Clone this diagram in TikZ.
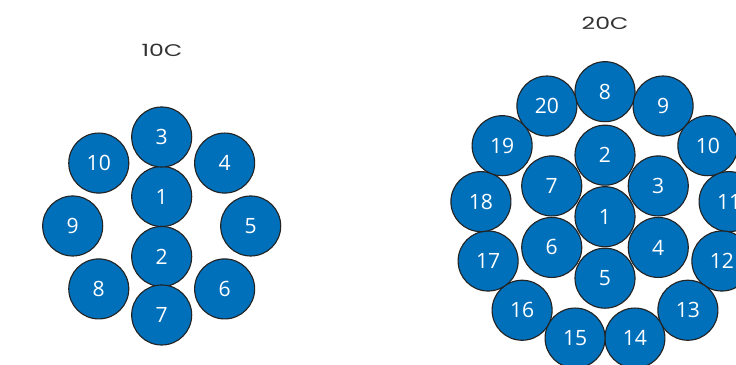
\documentclass[tikz,border=0pt]{standalone}
\usepackage{fontspec}
\setmainfont{Open Sans}
\newfontfamily\titlefont[FakeStretch=1.4]{Poppins}
\usetikzlibrary{positioning,calc}
\definecolor{cableblue}{RGB}{0,112,186}
\definecolor{rimgray}{RGB}{35,35,35}
\definecolor{titlegray}{RGB}{50,50,50}

\tikzset{
  core/.style={circle,fill=cableblue,draw=rimgray,line width=0.8pt,
    minimum size=1.5cm,inner sep=0pt,text=white,
    font=\fontsize{15}{16}\selectfont},
  cabletitle/.style={text=titlegray,font=\titlefont\fontsize{12}{14}\selectfont}
}

\begin{document}
\begin{tikzpicture}[x=0.025cm,y=0.025cm]
    \useasboundingbox (0,0) rectangle (736,365);
    \clip (0,0) rectangle (736,365);
    % 10C
    \coordinate (c10) at (161.7,139);
    \node[cabletitle] (t10) at (162,315) {10C};
    \node[core] (a1) at (161.7,168.5) {1};
    \node[core] (a2) at (161.7,108.5) {2};
    \foreach \n in {3,...,10}
      \node[core] (a\n) at ($(c10)+({90-(\n-3)*45}:89)$) {\n};
    % 20C
    \coordinate (c20) at (605,148.3);
    \node[cabletitle] (t20) at (605,341.7) {20C};
    \node[core] (b1) at (c20) {1};
    \foreach \n in {2,...,7}
      \node[core] (b\n) at ($(c20)+({90-(\n-2)*60}:61.5)$) {\n};
    \foreach \n in {8,...,20}
      \node[core] (b\n) at ($(c20)+({90-(\n-8)*360/13}:125)$) {\n};
  \end{tikzpicture}
\end{document}
